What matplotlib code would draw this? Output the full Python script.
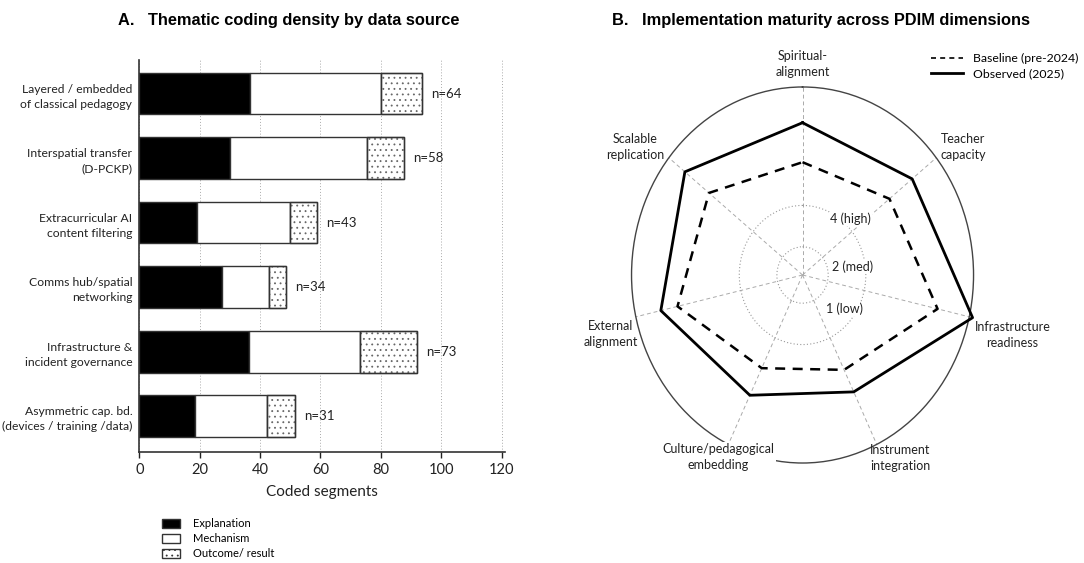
import matplotlib
matplotlib.use("Agg")
import matplotlib.pyplot as plt
import numpy as np
from matplotlib.patches import Patch
from matplotlib.lines import Line2D

plt.rcParams['font.family'] = ['Lato', 'DejaVu Sans']
plt.rcParams['hatch.linewidth'] = 0.6

# panel A: coded segments per data source
sources = ["Layered / embedded\nof classical pedagogy",
           "Interspatial transfer\n(D-PCKP)",
           "Extracurricular AI\ncontent filtering",
           "Comms hub/spatial\nnetworking",
           "Infrastructure &\nincident governance",
           "Asymmetric cap. bd.\n(devices / training /data)"]
explanation = [36.5, 30.0, 19.0, 27.4, 36.2, 18.3]
mechanism = [43.5, 45.3, 30.8, 15.5, 36.8, 24.1]
outcome = [13.5, 12.5, 9.0, 5.7, 18.9, 9.1]
n_labels = ["n=64", "n=58", "n=43", "n=34", "n=73", "n=31"]
x_ticks = [0, 20, 40, 60, 80, 100, 120]

# panel B: maturity per PDIM dimension
dimensions = ["Spiritual-\nalignment", "Teacher\ncapacity", "Infrastructure\nreadiness",
              "Instrument\nintegration", "Culture/pedagogical\nembedding",
              "External\nalignment", "Scalable\nreplication"]
baseline = [3.0, 3.25, 4.05, 2.8, 2.75, 3.75, 3.5]
observed = [4.05, 4.1, 5.1, 3.45, 3.55, 4.25, 4.4]
ring_levels = [0.75, 1.85]
ring_labels = ["2 (med)", "4 (high)", "1 (low)"]

fig = plt.figure(figsize=(10.84, 5.63), dpi=100)

# ---- A. stacked bars
ax = fig.add_axes([0.1285, 0.197, 0.3371, 0.6963])
y = np.arange(len(sources))
h = 0.645
exp = np.array(explanation)
mech = np.array(mechanism)
out = np.array(outcome)
ax.barh(y, exp, height=h, color='black', edgecolor='#333333', lw=1.0, zorder=3)
ax.barh(y, mech, left=exp, height=h, color='white', edgecolor='#333333', lw=1.0, zorder=3)
ax.barh(y, out, left=exp + mech, height=h, color='white', edgecolor='#666666',
        hatch='...', lw=1.0, zorder=3)
# darker outline over the hatched segment
ax.barh(y, out, left=exp + mech, height=h, color='none', edgecolor='#333333', lw=1.0, zorder=4)
totals = exp + mech + out
for yi, t, lab in zip(y, totals, n_labels):
    ax.text(t + 3, yi, lab, va='center', ha='left', fontsize=9.5, color='#222222')

ax.set_xlim(0, 121)
ax.set_ylim(len(sources) - 0.445, -0.52)
ax.set_yticks(y)
ax.set_yticklabels(sources, fontsize=8.7, color='#222222')
for t in ax.get_yticklabels():
    t.set_linespacing(1.45)
ax.tick_params(axis='y', length=0, pad=5)
ax.set_xticks(x_ticks)
ax.tick_params(axis='x', labelsize=10.5, length=4, width=1, colors='#222222')
ax.set_xlabel("Coded segments", fontsize=11, color='#222222', labelpad=6)
ax.grid(axis='x', linestyle=(0, (1, 2)), color='#aaaaaa', lw=0.7, zorder=0)
for s in ['top', 'right']:
    ax.spines[s].set_visible(False)
for s in ['left', 'bottom']:
    ax.spines[s].set_linewidth(1.2)
    ax.spines[s].set_color('#333333')

leg_a = [Patch(facecolor='black', edgecolor='#333333', label='Explanation'),
         Patch(facecolor='white', edgecolor='#333333', label='Mechanism'),
         Patch(facecolor='white', edgecolor='#333333', hatch='...', label='Outcome/ result')]
fig.legend(handles=leg_a, loc='upper left', bbox_to_anchor=(0.14, 0.097), frameon=False,
           fontsize=8, handlelength=1.6, handleheight=0.8, labelspacing=0.35, handletextpad=1.2)

fig.text(0.109, 0.964, "A.   Thematic coding density by data source", fontsize=11.8,
         fontweight='bold', family='Liberation Sans', va='center', ha='left')

# ---- B. radar
axr = fig.add_axes([0.5826, 0.1776, 0.3155, 0.6679], projection='polar')
axr.set_aspect('auto')
axr.set_theta_offset(np.pi / 2)
axr.set_theta_direction(-1)
angles = np.arange(len(dimensions)) * 2 * np.pi / len(dimensions)
ang_c = np.append(angles, angles[0])
base_c = np.append(baseline, baseline[0])
obs_c = np.append(observed, observed[0])
axr.plot(ang_c, base_c, color='black', lw=1.8, linestyle=(0, (4, 3)), clip_on=False, zorder=5,
         label='Baseline (pre-2024)')
axr.plot(ang_c, obs_c, color='black', lw=2.0, clip_on=False, zorder=5, label='Observed (2025)')
axr.set_ylim(0, 5)
axr.set_rgrids(ring_levels, labels=['', ''])
axr.set_thetagrids(np.degrees(angles), labels=[''] * len(dimensions))
axr.grid(axis='y', linestyle=(0, (1, 2)), color='#999999', lw=0.8)
axr.grid(axis='x', linestyle=(0, (4, 3)), color='#aaaaaa', lw=0.7)
axr.spines['polar'].set_linewidth(1.0)
axr.spines['polar'].set_color('#444444')

label_pos = [(0.5, 1.06), (0.97, 0.841), (1.114, 0.34), (0.785, 0.012),
             (0.2545, 0.015), (-0.06, 0.343), (0.01, 0.84)]
for lab, (px, py) in zip(dimensions, label_pos):
    bbox = None
    if lab.startswith("Culture"):
        bbox = dict(facecolor='white', edgecolor='none', pad=1)
    axr.text(px, py, lab, transform=axr.transAxes, ha='center', va='center', fontsize=9,
             color='#222222', bbox=bbox, zorder=6, linespacing=1.4)

ring_pos = [(0.585, 0.522), (0.58, 0.649), (0.569, 0.41)]
for lab, (px, py) in zip(ring_labels, ring_pos):
    axr.text(px, py, lab, transform=axr.transAxes, ha='left', va='center', fontsize=9,
             color='#222222', bbox=dict(facecolor='white', edgecolor='none', pad=0.5), zorder=4)

fig.legend(handles=[Line2D([], [], color='black', lw=1.2, linestyle=(0, (3, 2.5))),
                    Line2D([], [], color='black', lw=2.0)],
           labels=['Baseline (pre-2024)', 'Observed (2025)'],
           loc='upper right', bbox_to_anchor=(1.005, 0.925), frameon=False, fontsize=8.8,
           handlelength=2.6, labelspacing=0.3)

fig.text(0.5646, 0.964, "B.   Implementation maturity across PDIM dimensions", fontsize=11.8,
         fontweight='bold', family='Liberation Sans', va='center', ha='left')

fig.savefig("out.png", dpi=100, facecolor='white')
